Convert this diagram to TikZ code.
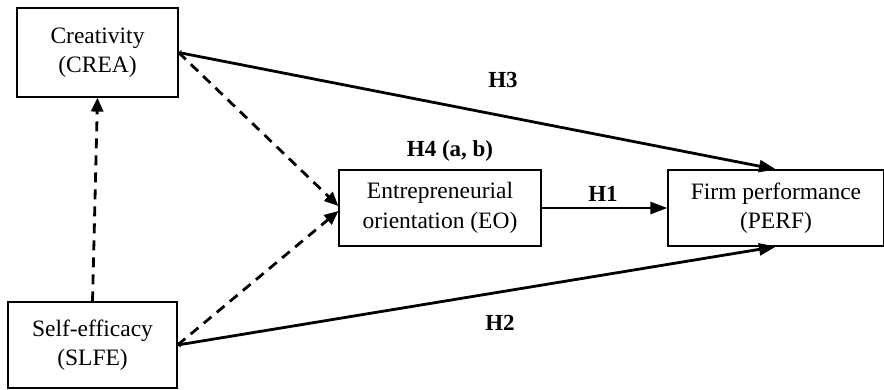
\documentclass[tikz,border=0pt]{standalone}
\usepackage{fontspec}
\setmainfont{Liberation Serif}
\usetikzlibrary{arrows.meta}
\tikzset{
  box/.style={draw, line width=1.2pt, inner sep=0pt, align=center,
    font=\fontsize{23.5}{29.5}\selectfont},
  hyp/.style={font=\fontsize{23}{27}\selectfont\bfseries, inner sep=0pt},
  solidarrow/.style={line width=2.8pt,
    {Straight Barb[length=2pt,width=5pt,line width=0.9pt]}-{Triangle[length=17pt,width=12pt]}},
  dasharrow/.style={line width=2.8pt, dash pattern=on 10pt off 7pt,
    -{Triangle[length=14pt,width=12pt]}},
}
\begin{document}
\begin{tikzpicture}[x=1pt,y=-1pt]
\useasboundingbox (0,0) rectangle (884,389);
\node[box, minimum width=161pt, minimum height=89pt] (crea) at (97.5,52.5) {Creativity\\(CREA)};
\node[box, minimum width=169pt, minimum height=86pt] (slfe) at (92.5,345) {Self-efficacy\\(SLFE)};
\node[box, minimum width=202pt, minimum height=76pt] (eo) at (440,208) {Entrepreneurial\\orientation (EO)};
\node[box, minimum width=216pt, minimum height=76pt] (perf) at (776,208) {Firm performance\\(PERF)};
\draw[solidarrow] (crea.east) -- (perf.north);
\draw[solidarrow] (slfe.east) -- (perf.south);
\draw[line width=2.8pt, -{Triangle[length=17pt,width=12pt]}] (eo.east) -- (perf.west);
\draw[dasharrow] (crea.east) -- ([yshift=2pt]eo.west);
\draw[dasharrow] (slfe.east) -- ([yshift=-3pt]eo.west);
\draw[dasharrow] (slfe.north) -- (crea.south);
\node[hyp] (h3) at (503,80) {H3};
\node[hyp] (h4) at (450,151) {H4 (a, b)};
\node[hyp] (h1) at (603,194) {H1};
\node[hyp] (h2) at (500,323) {H2};
\end{tikzpicture}
\end{document}
